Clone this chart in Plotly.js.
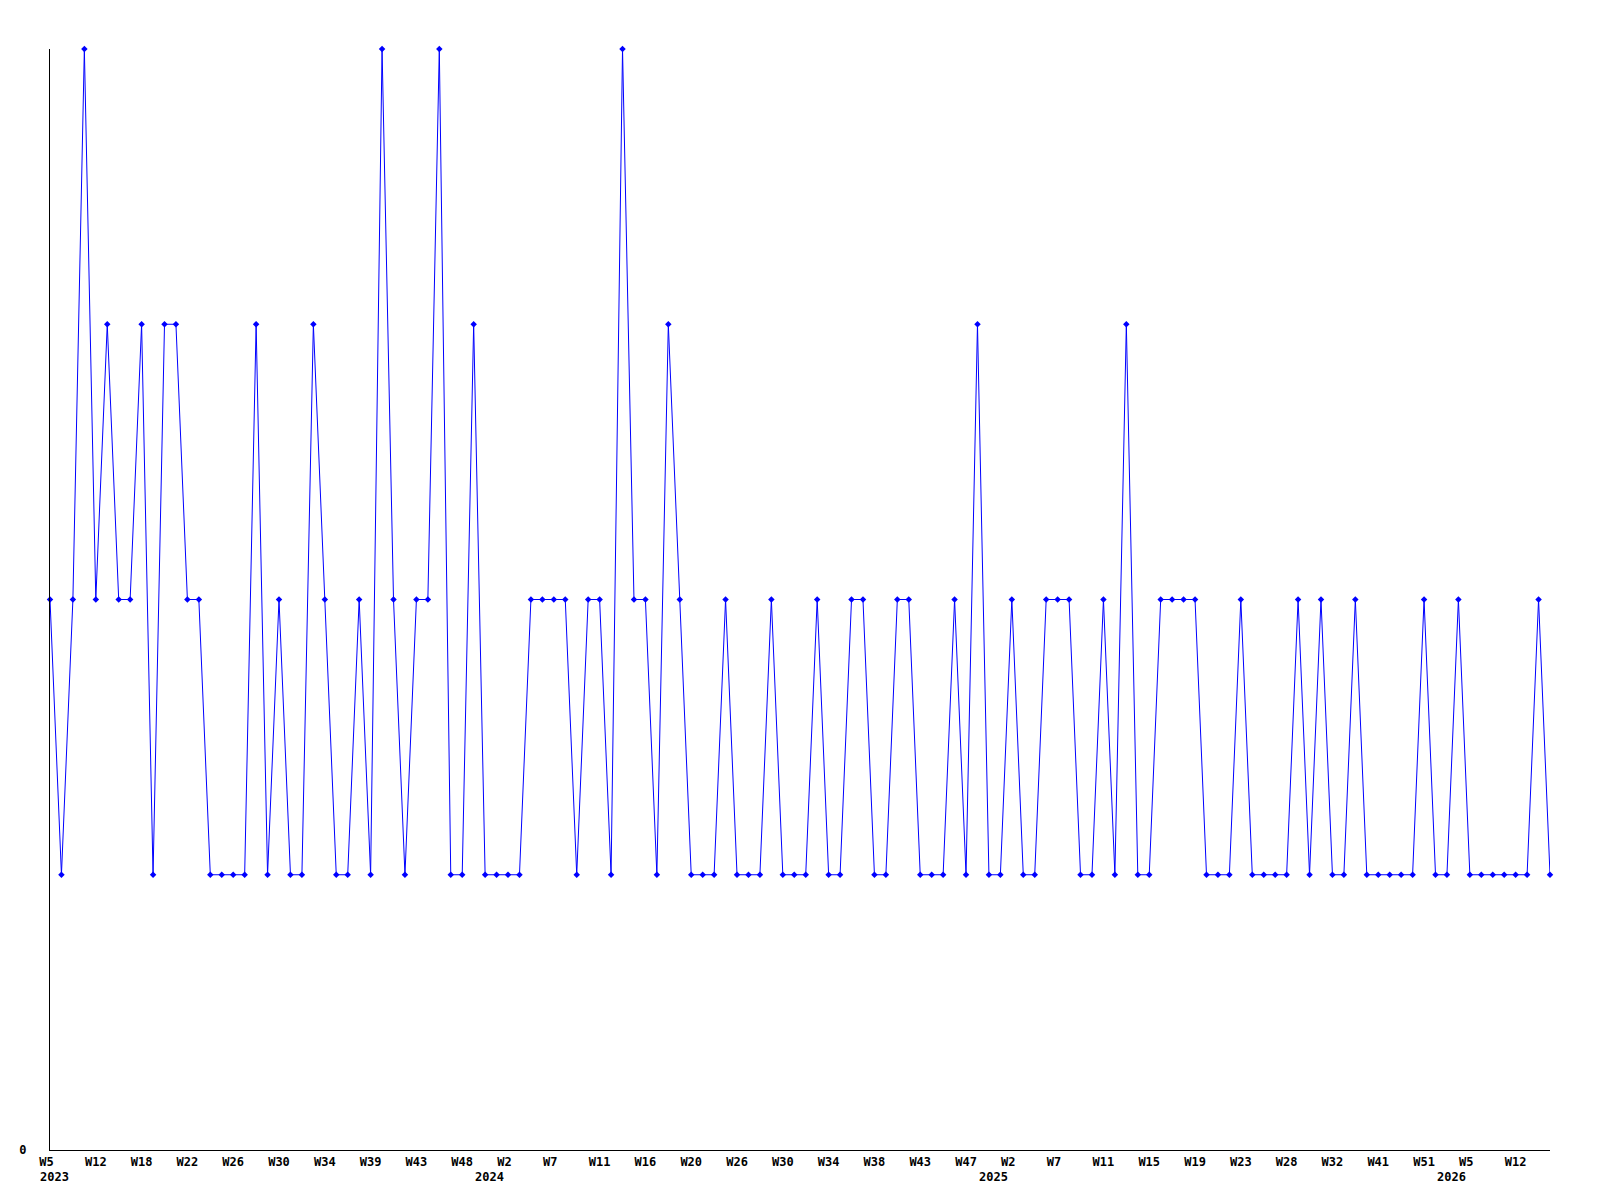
<!DOCTYPE html>
<html>
<head>
<meta charset="utf-8">
<script src="https://cdn.plot.ly/plotly-3.0.1.min.js"></script>
<style>
  html, body { margin: 0; padding: 0; background: #ffffff; }
  #chart { width: 1600px; height: 1200px; }
</style>
</head>
<body>
<div id="chart"></div>
<script>
// Weekly counts (one point per reported week, equally spaced)
const values = [
  2,1,2,4,2,3,2,2,3,1,
  3,3,2,2,1,1,1,1,3,1,
  2,1,1,3,2,1,1,2,1,4,
  2,1,2,2,4,1,1,3,1,1,
  1,1,2,2,2,2,1,2,2,1,
  4,2,2,1,3,2,1,1,1,2,
  1,1,1,2,1,1,1,2,1,1,
  2,2,1,1,2,2,1,1,1,2,
  1,3,1,1,2,1,1,2,2,2,
  1,1,2,1,3,1,1,2,2,2,
  2,1,1,1,2,1,1,1,1,2,
  1,2,1,1,2,1,1,1,1,1,
  2,1,1,2,1,1,1,1,1,1,
  2,1
];

// Tick labels shown on every 4th point
const tickLabels = [
  'W5','W12','W18','W22','W26','W30','W34','W39','W43','W48',
  'W2','W7','W11','W16','W20','W26','W30','W34','W38','W43','W47',
  'W2','W7','W11','W15','W19','W23','W28','W32','W41','W51',
  'W5','W12'
];
const tickStep = 4;

// Year labels and the point where each year starts
const years = ['2023','2024','2025','2026'];
const yearStart = [0, 38, 82, 122];

const xs = values.map((_, i) => i);
const tickvals = tickLabels.map((_, k) => k * tickStep);
const ticktext = tickLabels.map(t => t.length < 3 ? t + '\u00a0' : t);

const fontFam = '"DejaVu Sans Mono", "Liberation Mono", monospace';

const trace = {
  x: xs,
  y: values,
  type: 'scatter',
  mode: 'lines+markers',
  line: { color: '#0000ff', width: 1 },
  marker: { color: '#0000ff', symbol: 'diamond', size: 5 },
  cliponaxis: false,
  hoverinfo: 'skip'
};

const annotations = years.map((y, k) => ({
  x: yearStart[k],
  xref: 'x',
  y: 0,
  yref: 'paper',
  text: y,
  showarrow: false,
  xanchor: 'left',
  yanchor: 'middle',
  xshift: -12,
  yshift: -27,
  font: { family: fontFam, size: 12, color: '#000000', weight: 'bold' }
}));

const layout = {
  width: 1600,
  height: 1200,
  paper_bgcolor: '#ffffff',
  plot_bgcolor: '#ffffff',
  showlegend: false,
  margin: { l: 50, r: 50, t: 49, b: 50, pad: 0 },
  xaxis: {
    type: 'linear',
    range: [0, values.length - 1],
    tickmode: 'array',
    tickvals: tickvals,
    ticktext: ticktext,
    showgrid: false,
    zeroline: false,
    showline: true,
    linecolor: '#000000',
    linewidth: 1,
    ticks: '',
    tickangle: 0,
    tickfont: { family: fontFam, size: 12, color: '#000000', weight: 'bold' },
    ticklabelstandoff: 1
  },
  yaxis: {
    range: [0, 4],
    tickmode: 'array',
    tickvals: [0],
    ticktext: ['0'],
    showgrid: false,
    zeroline: false,
    showline: true,
    linecolor: '#000000',
    linewidth: 1,
    ticks: '',
    tickfont: { family: fontFam, size: 12, color: '#000000', weight: 'bold' },
    ticklabelstandoff: 20
  },
  annotations: annotations
};

Plotly.newPlot('chart', [trace], layout, { staticPlot: true, displayModeBar: false });
</script>
</body>
</html>
